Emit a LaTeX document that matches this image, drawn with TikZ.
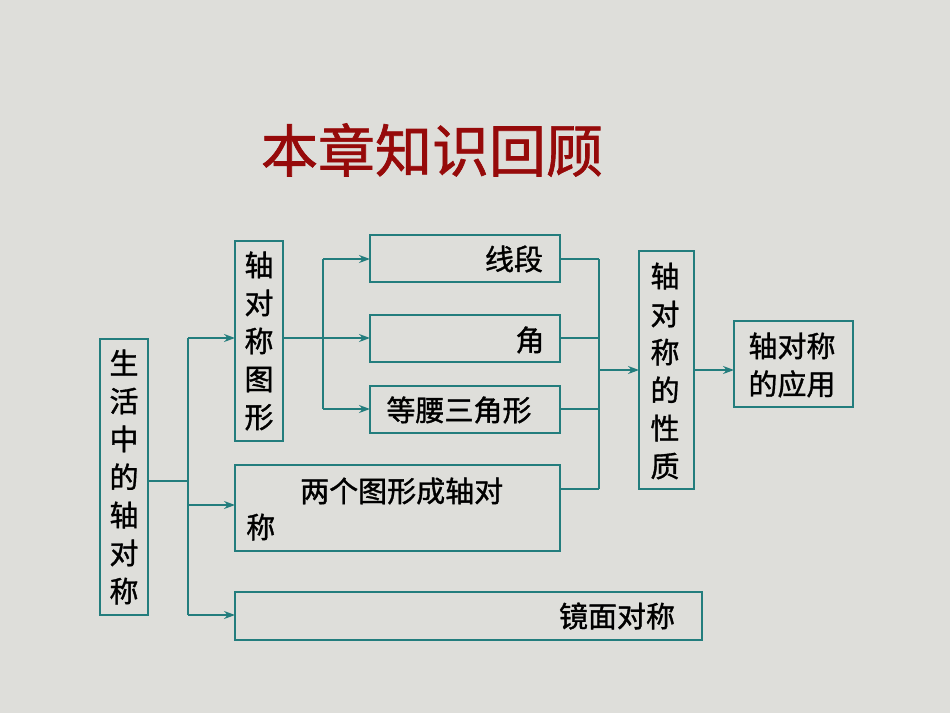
\documentclass[tikz,border=0pt]{standalone}
\usepackage{fontspec}
\newfontfamily\cjk[FakeBold=1.2]{Noto Sans CJK SC}
\usetikzlibrary{arrows.meta}
\definecolor{tl}{RGB}{35,125,125}
\definecolor{tt}{RGB}{150,10,10}
\definecolor{bg}{RGB}{222,222,218}
\begin{document}
\begin{tikzpicture}[x=1pt,y=-1pt,
  bx/.style={draw=tl,line width=1.5pt},
  tx/.style={font=\cjk\fontsize{29}{38}\selectfont,inner sep=0pt,align=center},
  ar/.style={draw=tl,line width=1.5pt,-{Stealth[length=11pt,width=8pt]}},
  ln/.style={draw=tl,line width=1.5pt}]
\fill[bg] (0,0) rectangle (950,713);
\useasboundingbox (0,0) rectangle (950,713);
\node[font=\cjk\fontsize{57}{60}\selectfont,text=tt] (title) at (432,150) {本章知识回顾};
% boxes
\draw[bx] (100,339) rectangle (148,615); \coordinate (A) at (148,481);
\node[tx] (a) at (124,477) {生\\活\\中\\的\\轴\\对\\称};
\draw[bx] (235,241) rectangle (283,441);
\node[tx] (b) at (259,341) {轴\\对\\称\\图\\形};
\draw[bx] (370,235) rectangle (560,282);
\node[tx] (c) at (514,259) {线段};
\draw[bx] (370,315) rectangle (560,362);
\node[tx] (d) at (530,340) {角};
\draw[bx] (370,386) rectangle (560,433);
\node[tx] (e) at (459,410) {等腰三角形};
\draw[bx] (235,465) rectangle (560,551);
\node[tx,anchor=west] (f1) at (300,491) {两个图形成轴对};
\node[tx,anchor=west] (f2) at (246,527) {称};
\draw[bx] (235,592) rectangle (702,640);
\node[tx] (g) at (617,616) {镜面对称};
\draw[bx] (639,251) rectangle (694,489);
\node[tx] (h) at (665,371) {轴\\对\\称\\的\\性\\质};
\draw[bx] (734,321) rectangle (853,407);
\node[tx] (i) at (792,365) {轴对称\\的应用};
% connectors left
\coordinate (j1) at (188,481);
\draw[ln] (A) -- (j1);
\draw[ln] (188,338) -- (188,615);
\draw[ar] (188,338) -- (235,338);
\draw[ar] (188,505) -- (235,505);
\draw[ar] (188,615) -- (235,615);
\draw[ar] (283,338) -- (370,338);
\draw[ln] (323,259) -- (323,409);
\draw[ar] (323,259) -- (370,259);
\draw[ar] (323,409) -- (370,409);
% right
\draw[ln] (560,259) -- (599,259);
\draw[ln] (560,338) -- (599,338);
\draw[ln] (560,409) -- (599,409);
\draw[ln] (560,489) -- (599,489);
\draw[ln] (599,259) -- (599,489);
\draw[ar] (599,370) -- (639,370);
\draw[ar] (694,370) -- (734,370);
\end{tikzpicture}
\end{document}
